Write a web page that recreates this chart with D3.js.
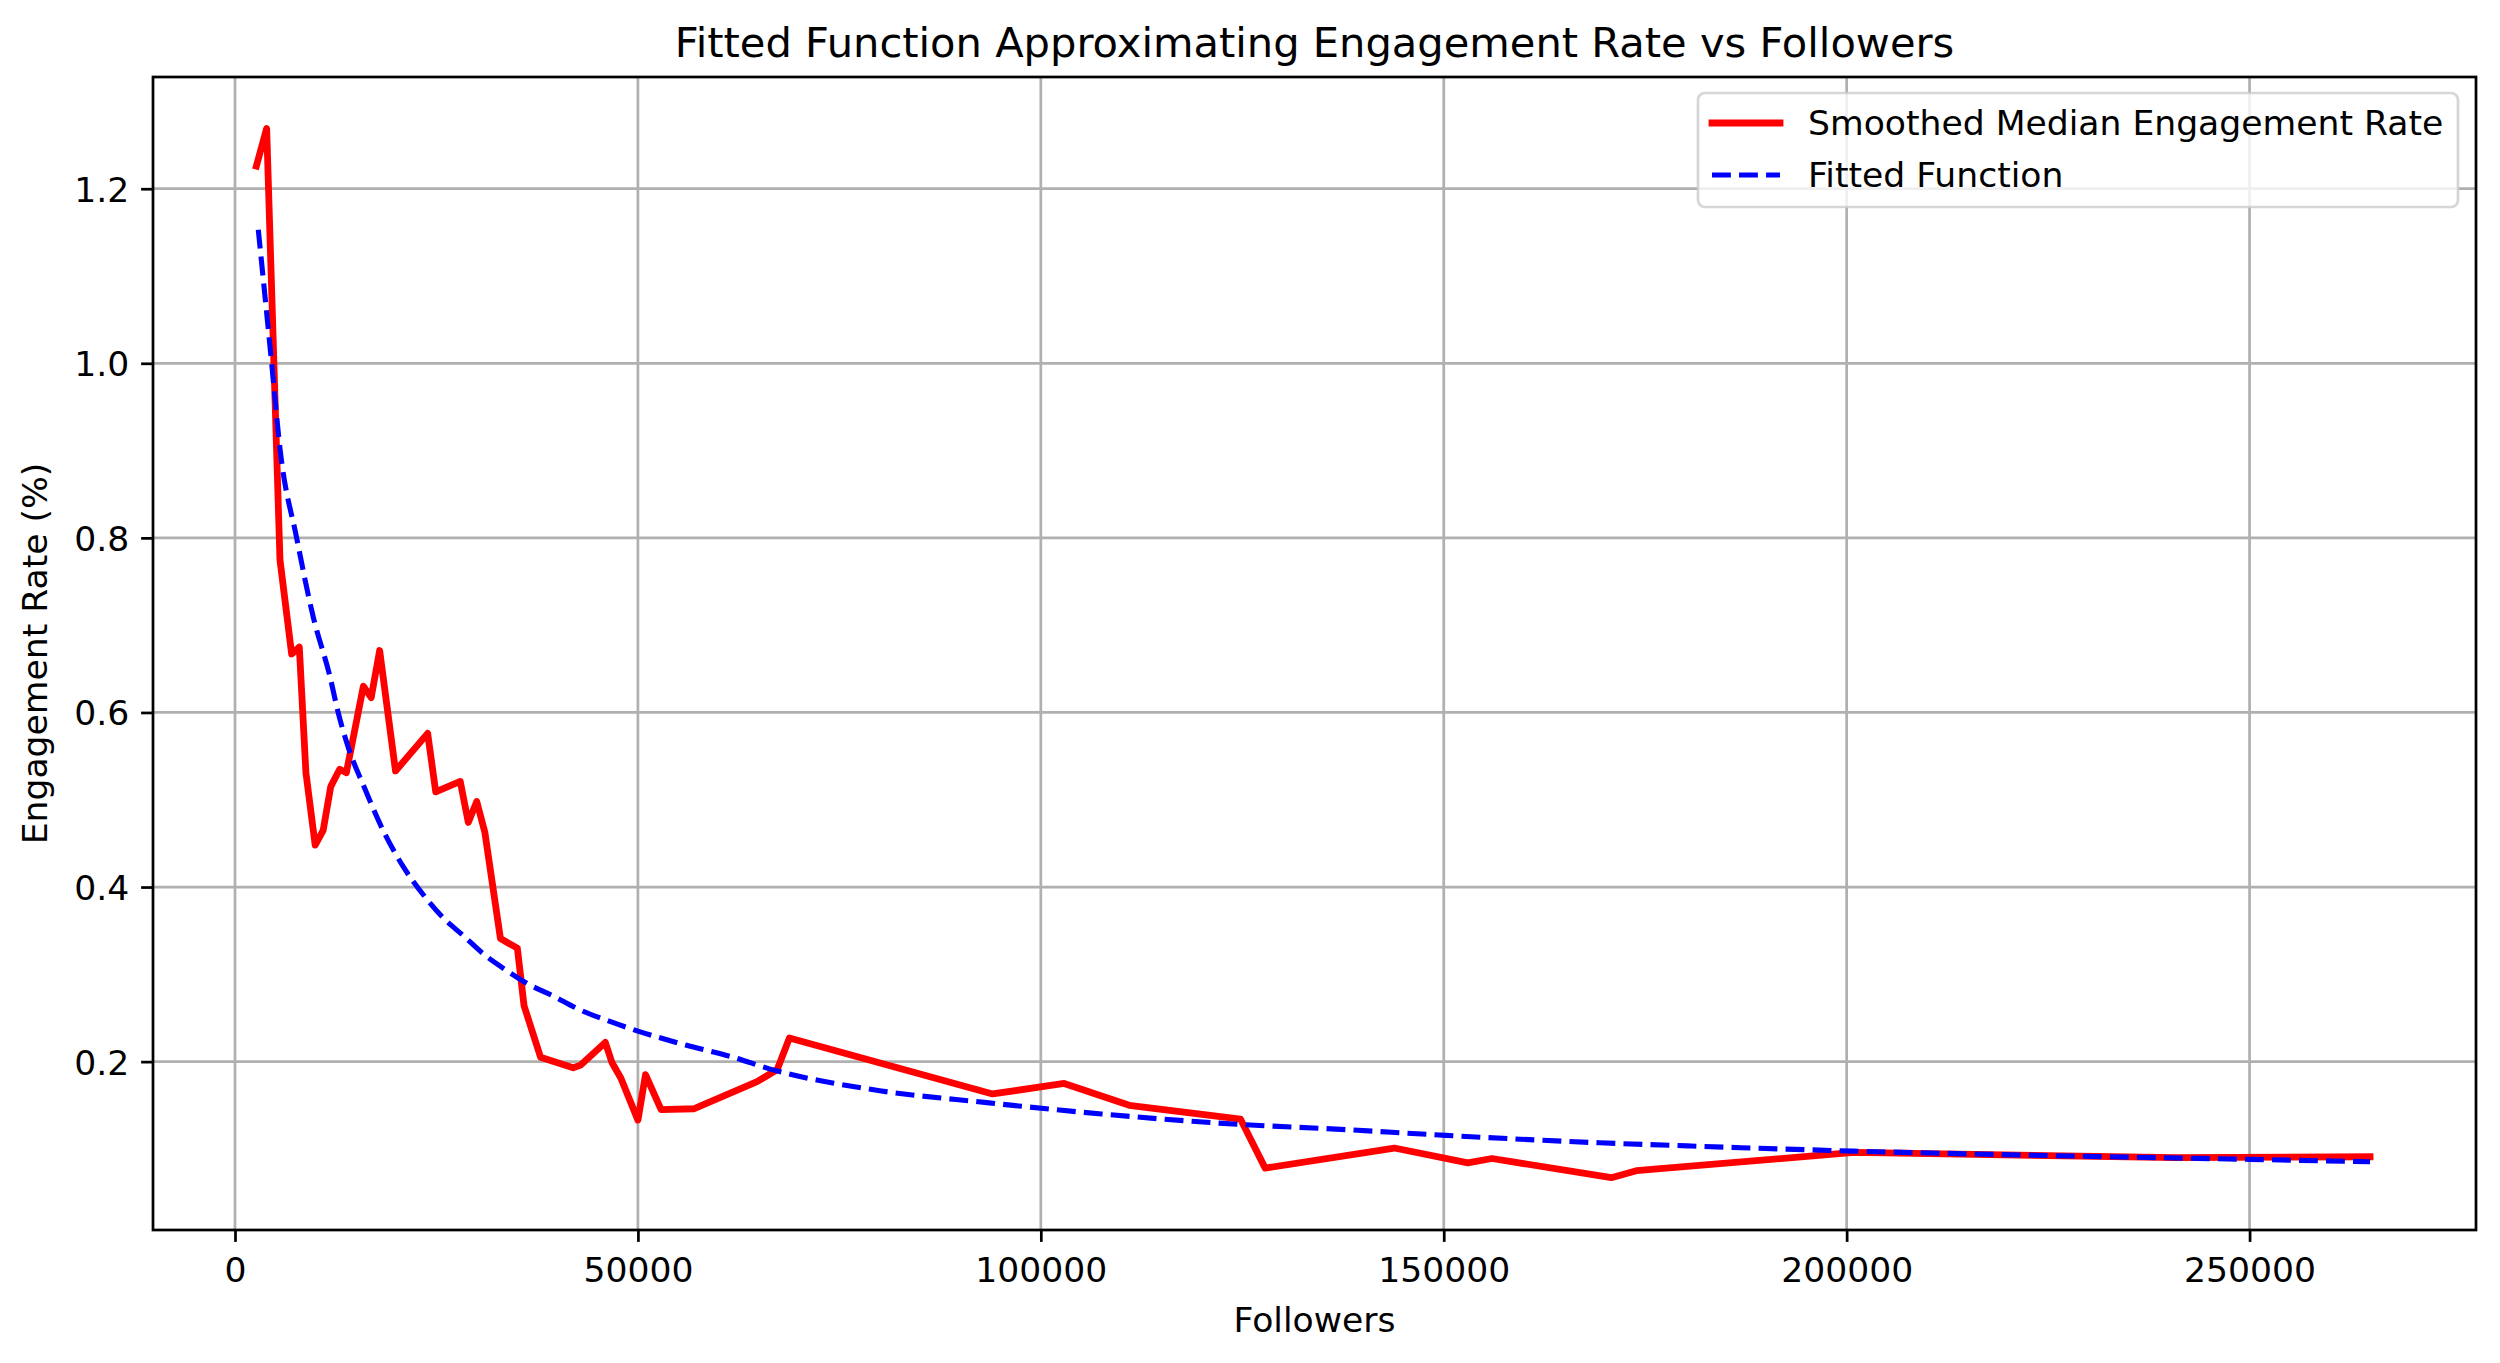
<!DOCTYPE html>
<html>
<head>
<meta charset="utf-8">
<script src="https://cdn.jsdelivr.net/npm/d3@7"></script>
<style>
    body { margin: 0; background: #fff; }
    text { font-family: "DejaVu Sans", sans-serif; fill: #000; }
</style>
</head>
<body>
<svg id="chart" width="2500" height="1363"></svg>
<script>
// Smoothed median engagement rate
const followers = [2650, 3930, 5580, 7030, 7980, 8800, 9950, 10940, 11880, 12990, 13820,
    15930, 16900, 17950, 19920, 23910, 24910, 27950, 28950, 30000, 31000, 32940, 35040,
    35870, 37920, 41960, 42900, 45950, 46780, 47890, 50000, 50940, 52880, 56920, 64790,
    67290, 68800, 94020, 102900, 110970, 124790, 127840, 143870, 152990, 155980, 170800,
    173900, 200900, 240800, 264950];
const medianRate = [1.226, 1.269, 0.775, 0.667, 0.675, 0.531, 0.448, 0.465, 0.515, 0.535, 0.531,
    0.630, 0.617, 0.671, 0.533, 0.576, 0.509, 0.521, 0.474, 0.498, 0.463, 0.341, 0.330,
    0.264, 0.205, 0.193, 0.196, 0.222, 0.199, 0.181, 0.133, 0.185, 0.145, 0.146, 0.177,
    0.191, 0.227, 0.163, 0.175, 0.150, 0.134, 0.078, 0.101, 0.084, 0.089, 0.067,
    0.075, 0.096, 0.090, 0.091];

// Fitted function, sampled along the dashed curve
const fitFollowers = [2890, 4550, 5600, 7650, 9720, 11790, 12800, 14060, 16050, 18270, 21040,
    23810, 26030, 28240, 31010, 33780, 36550, 39320, 42650, 46520, 50000, 55930, 61470,
    67000, 79060, 93300, 107540, 124790, 136040, 150280, 169350, 180680, 200870, 228160,
    250000, 264950];
const fitRate = [1.153, 1.0, 0.901, 0.80, 0.709, 0.641, 0.60, 0.560, 0.514, 0.467, 0.421,
    0.386, 0.363, 0.345, 0.322, 0.304, 0.288, 0.276, 0.260, 0.246, 0.235, 0.219, 0.206,
    0.190, 0.168, 0.153, 0.140, 0.128, 0.123, 0.1155, 0.107, 0.1033, 0.0975, 0.0918,
    0.088, 0.0853];

const xTicks = [0, 50000, 100000, 150000, 200000, 250000];
const yTicks = [0.2, 0.4, 0.6, 0.8, 1.0, 1.2];

const seriesLabels = ['Smoothed Median Engagement Rate', 'Fitted Function'];

/**
 * Visual configs (pt scaled to px).
 */
const pt = 3.4,
    margin = { top: 77, right: 24, bottom: 133, left: 153 },
    visWidth = 2500, visHeight = 1363,
    width = visWidth - margin.left - margin.right,
    height = visHeight - margin.top - margin.bottom,
    fontSize = 34.6,
    titleSize = 41.6,
    tickLen = 3.5 * pt,
    tickPad = 3.5 * pt;

const svg = d3.select('#chart');

const x = d3.scaleLinear().domain([-10176, 278100]).range([0, width]);
const y = d3.scaleLinear().domain([0.0071, 1.328]).range([height, 0]);

const g = svg.append('g').attr('transform', 'translate(' + margin.left + ',' + margin.top + ')');

g.append('clipPath').attr('id', 'plot-clip')
    .append('rect').attr('width', width).attr('height', height);

// Grid
const grid = g.append('g').attr('class', 'grid');
grid.selectAll('.gx').data(xTicks).enter().append('line')
    .attr('x1', d => x(d)).attr('x2', d => x(d))
    .attr('y1', 0).attr('y2', height);
grid.selectAll('.gy').data(yTicks).enter().append('line')
    .attr('x1', 0).attr('x2', width)
    .attr('y1', d => y(d)).attr('y2', d => y(d));
grid.selectAll('line')
    .attr('stroke', '#b0b0b0')
    .attr('stroke-width', 0.8 * pt);

// Lines
const red = followers.map((f, i) => [f, medianRate[i]]);
const blue = fitFollowers.map((f, i) => [f, fitRate[i]]);

const lines = g.append('g').attr('clip-path', 'url(#plot-clip)');

lines.append('path')
    .datum(red)
    .attr('fill', 'none')
    .attr('stroke', '#ff0000')
    .attr('stroke-width', 2 * pt)
    .attr('stroke-linejoin', 'round')
    .attr('stroke-linecap', 'square')
    .attr('d', d3.line().x(d => x(d[0])).y(d => y(d[1])));

lines.append('path')
    .datum(blue)
    .attr('fill', 'none')
    .attr('stroke', '#0000ff')
    .attr('stroke-width', 1.5 * pt)
    .attr('stroke-dasharray', (3.7 * 1.5 * pt) + ',' + (1.6 * 1.5 * pt))
    .attr('d', d3.line().curve(d3.curveMonotoneX).x(d => x(d[0])).y(d => y(d[1])));

// Axes
const xAxis = d3.axisBottom(x).tickValues(xTicks).tickFormat(d3.format('d'))
    .tickSize(tickLen).tickPadding(tickPad);
const yAxis = d3.axisLeft(y).tickValues(yTicks).tickFormat(d3.format('.1f'))
    .tickSize(tickLen).tickPadding(tickPad);

const gx = g.append('g').attr('transform', 'translate(0,' + height + ')').call(xAxis);
const gy = g.append('g').call(yAxis);

[gx, gy].forEach(a => {
    a.select('.domain').remove();
    a.selectAll('.tick line').attr('stroke', '#000').attr('stroke-width', 0.8 * pt);
    a.selectAll('.tick text')
        .attr('font-family', '"DejaVu Sans", sans-serif')
        .attr('font-size', fontSize)
        .attr('fill', '#000');
});
gx.selectAll('.tick text').attr('dy', null).attr('y', tickLen + tickPad + 0.76 * fontSize + 2);
gy.selectAll('.tick text').attr('dy', null).attr('y', 0.36 * fontSize);

// Spines
g.append('rect')
    .attr('width', width).attr('height', height)
    .attr('fill', 'none')
    .attr('stroke', '#000')
    .attr('stroke-width', 0.8 * pt);

// Titles
svg.append('text')
    .attr('x', margin.left + width / 2).attr('y', 57)
    .attr('text-anchor', 'middle')
    .attr('font-size', titleSize)
    .text('Fitted Function Approximating Engagement Rate vs Followers');

svg.append('text')
    .attr('x', margin.left + width / 2).attr('y', 1332)
    .attr('text-anchor', 'middle')
    .attr('font-size', fontSize)
    .text('Followers');

svg.append('text')
    .attr('transform', 'translate(47,' + (margin.top + height / 2) + ') rotate(-90)')
    .attr('text-anchor', 'middle')
    .attr('font-size', fontSize)
    .text('Engagement Rate (%)');

// Legend
const legend = svg.append('g').attr('transform', 'translate(1698,93)');
legend.append('rect')
    .attr('width', 760).attr('height', 114)
    .attr('rx', 0.2 * fontSize)
    .attr('fill', '#fff').attr('fill-opacity', 0.8)
    .attr('stroke', '#cccccc').attr('stroke-opacity', 0.8)
    .attr('stroke-width', 0.8 * pt);

const items = legend.selectAll('.item').data(seriesLabels).enter().append('g')
    .attr('transform', (d, i) => 'translate(0,' + (30 + i * 52) + ')');

items.append('line')
    .attr('x1', 14).attr('x2', 14 + 2 * 34)
    .attr('stroke', (d, i) => i === 0 ? '#ff0000' : '#0000ff')
    .attr('stroke-width', (d, i) => i === 0 ? 2 * pt : 1.5 * pt)
    .attr('stroke-linecap', (d, i) => i === 0 ? 'square' : 'butt')
    .attr('stroke-dasharray', (d, i) => i === 0 ? null : (3.7 * 1.5 * pt) + ',' + (1.6 * 1.5 * pt));

items.append('text')
    .attr('x', 110)
    .attr('y', 0.36 * fontSize)
    .attr('font-size', fontSize)
    .text(d => d);
</script>
</body>
</html>
